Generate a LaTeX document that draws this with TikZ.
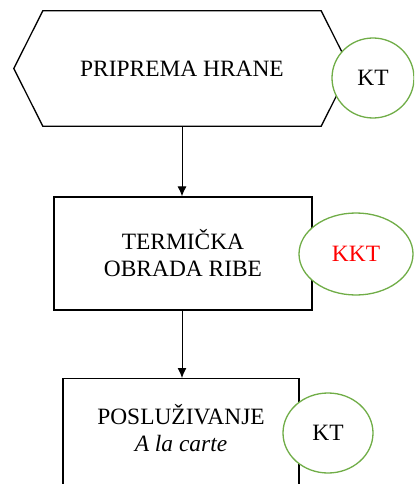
\documentclass[tikz,border=0pt]{standalone}
\usepackage{fontspec}
\setmainfont{Liberation Serif}
\usetikzlibrary{shapes.geometric, arrows.meta}
\definecolor{ktgreen}{RGB}{112,173,71}
\tikzset{
  stepbox/.style={draw=black, line width=1.3bp, fill=white, inner sep=0pt, align=center,
    font=\fontsize{23.5}{27}\selectfont},
  hexbox/.style={inner sep=0pt, align=center, minimum width=278bp, minimum height=115bp,
    font=\fontsize{23.5}{27}\selectfont},
  boxtext/.style={inner sep=0pt, align=center, font=\fontsize{23.5}{27}\selectfont},
  ktmark/.style={ellipse, draw=ktgreen, line width=1.3bp, fill=white, inner sep=0pt,
    font=\fontsize{23.5}{27}\selectfont},
  flow/.style={line width=1bp, ->, >={Latex[length=10bp, width=9bp]}}
}
\begin{document}
\begin{tikzpicture}[x=1bp, y=-1bp]
\clip (0,0) rectangle (414,484);

% hexagon
\node[hexbox] (priprema) at (182,68.5) {PRIPREMA HRANE};
\draw[line width=1.3bp, line join=miter] (priprema.north west) -- (priprema.north east)
  -- ([xshift=29bp]priprema.east) -- (priprema.south east) -- (priprema.south west)
  -- ([xshift=-29bp]priprema.west) -- cycle;

% boxes
\node[stepbox, minimum width=258bp, minimum height=113bp] (termicka) at (183,253.5) {TERMIČKA\\OBRADA RIBE};
\node[stepbox, minimum width=236bp, minimum height=140bp, anchor=north] (posluzivanje) at (181,378) {};
\node[boxtext] (posluzivanjetxt) at ([yshift=-50bp]posluzivanje.north) {POSLUŽIVANJE\\\textit{A la carte}};

% arrows
\draw[flow] (priprema.south) -- (priprema.south |- termicka.north);
\draw[flow] (priprema.south |- termicka.south) -- (priprema.south |- posluzivanje.north);

% control points
\node[ktmark, minimum width=82bp, minimum height=80bp] (kt1) at (373,78) {KT};
\node[ktmark, minimum width=114bp, minimum height=82bp, text=red] (kkt) at (356,254) {KKT};
\node[ktmark, minimum width=90bp, minimum height=80bp] (kt2) at (328,433) {KT};
\end{tikzpicture}
\end{document}
